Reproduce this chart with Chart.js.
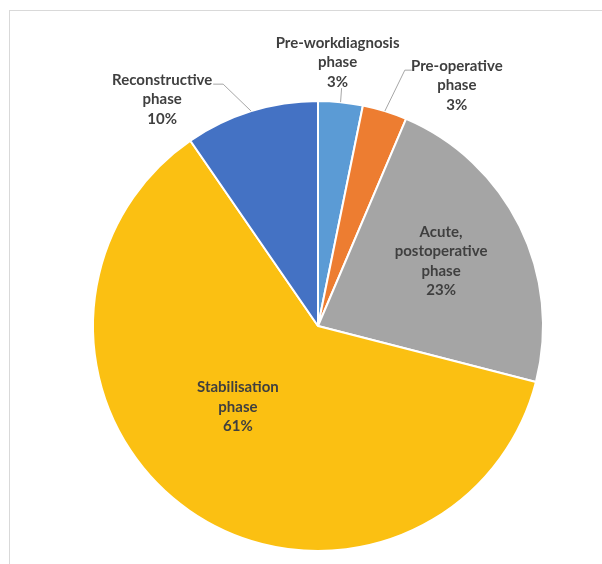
<!DOCTYPE html>
<html>
<head>
<meta charset="utf-8">
<script src="https://cdn.jsdelivr.net/npm/chart.js@4.4.1/dist/chart.umd.min.js"></script>
<style>
  html, body { margin: 0; padding: 0; background: #fff; overflow: hidden; }
  #wrap { position: relative; width: 602px; height: 564px; }
  #frame { position: absolute; left: 9px; top: 10px; width: 700px; height: 700px; border: 1px solid #d9d9d9; }
  canvas { position: absolute; left: 0; top: 0; }
</style>
</head>
<body>
<div id="wrap">
  <div id="frame"></div>
  <canvas id="pieChart" width="602" height="564"></canvas>
</div>
<script>
// phases (Excel style labels, name lines + rounded percent)
const phaseNames = [
    ['Pre-workdiagnosis', 'phase'],
    ['Pre-operative', 'phase'],
    ['Acute,', 'postoperative', 'phase'],
    ['Stabilisation', 'phase'],
    ['Reconstructive', 'phase']
];
const phaseShare = [3.2, 3.2, 22.6, 61.4, 9.6];
const phaseColors = ['#5b9bd5', '#ed7d31', '#a5a5a5', '#fbc012', '#4472c4'];

// where each label sits (offsets in px from the slice edge point, or fraction of radius for inside ones)
const labelLayout = [
    { out: true, leader: [[1, -14]], text: [-3, -59] },
    { out: true, leader: [[20, -41], [27, -41]], text: [72, -45] },
    { out: false, pos: [0.547, -0.289] },
    { out: false, pos: [-0.356, 0.36] },
    { out: true, leader: [[-28, -27], [-38, -27]], text: [-89, -31] }
];

const lineH = 19.5;

const labelPlugin = {
    id: 'phaseLabels',
    afterDatasetsDraw(chart) {
        let ctx = chart.ctx;
        let meta = chart.getDatasetMeta(0);
        ctx.save();
        ctx.font = 'bold 15px Lato';
        ctx.fillStyle = '#3f3f3f';
        ctx.textAlign = 'center';
        ctx.textBaseline = 'middle';
        meta.data.forEach(function(arc, i) {
            let p = arc.getProps(['x', 'y', 'startAngle', 'endAngle', 'outerRadius'], true);
            let mid = (p.startAngle + p.endAngle) / 2;
            let lines = phaseNames[i].concat([Math.round(phaseShare[i]) + '%']);
            let lay = labelLayout[i];
            let cx, firstY;
            if (lay.out) {
                let ex = p.x + Math.cos(mid) * p.outerRadius;
                let ey = p.y + Math.sin(mid) * p.outerRadius;
                ctx.strokeStyle = '#a6a6a6';
                ctx.lineWidth = 1;
                ctx.beginPath();
                ctx.moveTo(ex, ey);
                lay.leader.forEach(function(pt) {
                    ctx.lineTo(ex + pt[0], ey + pt[1]);
                });
                ctx.stroke();
                cx = ex + lay.text[0];
                firstY = ey + lay.text[1];
            } else {
                cx = p.x + lay.pos[0] * p.outerRadius;
                let cy = p.y + lay.pos[1] * p.outerRadius;
                firstY = cy - (lines.length - 1) * lineH / 2;
            }
            lines.forEach(function(t, k) {
                ctx.fillText(t, cx, firstY + k * lineH);
            });
        });
        ctx.restore();
    }
};

let ctx = document.getElementById('pieChart').getContext('2d');
let pieChart = new Chart(ctx, {
    type: 'pie',
    data: {
        labels: phaseNames.map(n => n.join(' ')),
        datasets: [{
            data: phaseShare,
            backgroundColor: phaseColors,
            borderColor: '#ffffff',
            borderWidth: 2,
            hoverOffset: 0
        }]
    },
    options: {
        responsive: false,
        animation: false,
        devicePixelRatio: 1,
        layout: { padding: { left: 92, right: 58, top: 100, bottom: 12 } },
        plugins: {
            legend: { display: false },
            tooltip: { enabled: false }
        }
    },
    plugins: [labelPlugin]
});
</script>
</body>
</html>
